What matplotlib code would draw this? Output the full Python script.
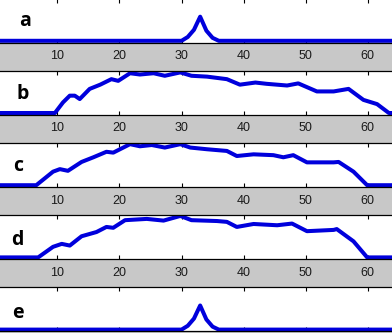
import matplotlib
matplotlib.use('Agg')
import matplotlib.pyplot as plt

# profiles (x position, relative height)
xa = [1, 30, 31, 32, 33, 34, 35, 36, 64]
ya = [0, 0, 0.09, 0.26, 0.57, 0.24, 0.07, 0, 0]

xb = [1, 9.6, 10.9, 12.0, 12.8, 13.6, 15.2, 16.9, 18.7, 19.8, 21.7, 23.3, 25.5, 27.3,
      29.8, 31.6, 34.1, 37.3, 39.4, 41.9, 43.7, 47.0, 48.8, 51.8, 54.5, 56.9, 59.3,
      61.5, 63.4, 64]
yb = [0, 0, 0.25, 0.41, 0.41, 0.33, 0.57, 0.67, 0.80, 0.76, 0.94, 0.91, 0.94, 0.88,
      0.96, 0.88, 0.86, 0.80, 0.67, 0.72, 0.69, 0.65, 0.70, 0.51, 0.51, 0.57, 0.31,
      0.21, 0, 0]

xc = [1, 6.6, 9.3, 10.4, 11.7, 13.9, 15.8, 17.9, 19.0, 21.7, 23.3, 25.2, 27.3, 29.8,
      31.4, 34.1, 37.3, 38.9, 41.6, 44.8, 46.4, 48.0, 50.2, 54.5, 55.3, 57.7, 59.9, 64]
yc = [0, 0, 0.32, 0.38, 0.34, 0.55, 0.66, 0.79, 0.77, 0.97, 0.92, 0.95, 0.89, 0.97,
      0.89, 0.85, 0.81, 0.69, 0.73, 0.71, 0.66, 0.71, 0.54, 0.54, 0.55, 0.32, 0, 0]

xd = [1, 6.9, 9.3, 10.7, 12.0, 13.9, 16.3, 17.9, 19.0, 20.9, 24.4, 27.1, 29.8, 31.6,
      35.7, 37.3, 38.9, 41.6, 45.4, 47.8, 50.2, 54.5, 55.0, 57.7, 59.9, 64]
yd = [0, 0, 0.25, 0.32, 0.28, 0.50, 0.60, 0.72, 0.70, 0.88, 0.91, 0.87, 0.98, 0.88,
      0.86, 0.84, 0.72, 0.79, 0.76, 0.80, 0.62, 0.65, 0.67, 0.38, 0, 0]

xe = xa
ye = ya

labels = ['a', 'b', 'c', 'd', 'e']
series = [(xa, ya), (xb, yb), (xc, yc), (xd, yd), (xe, ye)]
ticks = [10, 20, 30, 40, 50, 60]

W, H = 392, 333
fig = plt.figure(figsize=(W / 100, H / 100), dpi=100, facecolor='#c8c8c8')

bottoms = [42.5 + 72.2 * k for k in range(5)]   # pixel rows of the lower spines
label_x = [19.3, 16.7, 13.3, 10.7, 11.7]
label_up = [16.5, 16.0, 16.3, 14.0, 13.5]

for k, (x, y) in enumerate(series):
    bot = bottoms[k]
    ax = fig.add_axes([0, (H - bot) / H, 1, 44 / H])
    ax.set_facecolor('white')
    ax.plot(x, y, color='#0000dc', lw=2.9, solid_joinstyle='round')
    ax.set_xlim(0.757, 63.9)
    ax.set_ylim(-0.04, 1.0)
    ax.set_yticks([])
    ax.set_xticks(ticks)
    ax.tick_params(axis='x', direction='in', top=True, length=3, width=0.8,
                   pad=5.5, labelsize=9, labelcolor='#1a1a1a')
    if k == len(series) - 1:
        ax.tick_params(axis='x', labelbottom=False)
    for lab in ax.get_xticklabels():
        lab.set_family('Liberation Sans')
    for s in ['left', 'right']:
        ax.spines[s].set_visible(False)
    for s in ['top', 'bottom']:
        ax.spines[s].set_linewidth(0.9)
    fig.text(label_x[k] / W, (H - bot + label_up[k]) / H, labels[k],
             fontsize=14, fontweight='bold', family='Open Sans',
             ha='left', va='baseline', color='black')

plt.savefig('out.png', dpi=100, facecolor=fig.get_facecolor())
